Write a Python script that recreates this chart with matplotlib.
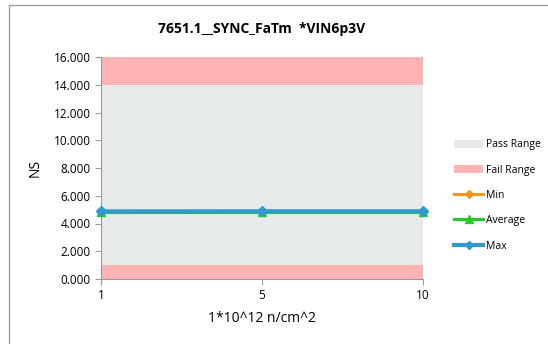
import matplotlib
matplotlib.use("Agg")
import matplotlib.pyplot as plt
from matplotlib.patches import Patch, Rectangle
from matplotlib.lines import Line2D
import numpy as np

plt.rcParams['font.family'] = ['Open Sans', 'DejaVu Sans']

categories = ["1", "5", "10"]
pass_low = [1.0, 1.0, 1.0]
pass_high = [14.0, 14.0, 14.0]
fail_top = [16.0, 16.0, 16.0]
min_vals = [4.80, 4.80, 4.80]
avg_vals = [4.81, 4.81, 4.81]
max_vals = [4.87, 4.88, 4.88]
yticks = [0, 2, 4, 6, 8, 10, 12, 14, 16]

fig = plt.figure(figsize=(5.48, 3.44), dpi=100)
fig.patch.set_facecolor("white")
fig.add_artist(Rectangle((9/548, -0.1), 1.0, 1 - 5/344 + 0.1, transform=fig.transFigure,
                         fill=False, edgecolor="#a0a0a0", linewidth=1.0))

ax = fig.add_axes([101/548, 1 - 279/344, (423 - 101)/548, (279 - 57)/344])
x = np.arange(len(categories))

pass_c = "#e6eaea"
fail_c = "#ffb3b3"
ax.fill_between(x, 0, pass_low, color=fail_c, linewidth=0)
ax.fill_between(x, pass_low, pass_high, color=pass_c, linewidth=0)
ax.fill_between(x, pass_high, fail_top, color=fail_c, linewidth=0)

min_c = "#f7941d"
avg_c = "#22cc22"
max_c = "#3399cc"
ax.plot(x, min_vals, color=min_c, lw=2.2, marker="D", ms=4, clip_on=False, zorder=3)
ax.plot(x, avg_vals, color=avg_c, lw=2.2, marker="^", ms=6, clip_on=False, zorder=4)
ax.plot(x, max_vals, color=max_c, lw=3.0, marker="D", ms=5, clip_on=False, zorder=5)

ax.set_xlim(0, len(categories) - 1)
ax.set_ylim(0, 16)
ax.set_xticks(x)
ax.set_xticklabels(categories, fontsize=8.5)
ax.set_yticks(yticks)
ax.set_yticklabels([f"{v:.3f}" for v in yticks], fontsize=8.5)
for s in ["top", "right"]:
    ax.spines[s].set_visible(False)
for s in ["left", "bottom"]:
    ax.spines[s].set_color("#999999")
ax.tick_params(axis="both", colors="#999999", labelcolor="black", length=4, direction="out")
ax.set_ylabel("NS", fontsize=10, labelpad=8)
ax.set_xlabel("1*10^12 n/cm^2", fontsize=10, labelpad=6)
ax.set_title("7651.1__SYNC_FaTm  *VIN6p3V", fontsize=10, fontweight="bold", pad=17)

handles = [
    Patch(facecolor=pass_c, edgecolor="none", label="Pass Range"),
    Patch(facecolor=fail_c, edgecolor="none", label="Fail Range"),
    Line2D([], [], color=min_c, lw=2.2, marker="D", ms=4, label="Min"),
    Line2D([], [], color=avg_c, lw=2.2, marker="^", ms=6, label="Average"),
    Line2D([], [], color=max_c, lw=3.0, marker="D", ms=4, label="Max"),
]
fig.legend(handles=handles, loc="upper left", bbox_to_anchor=(450/548, 1 - 135/344),
           frameon=False, fontsize=7.5, labelspacing=1.38, handlelength=2.8,
           handletextpad=0.3, handleheight=0.8, borderaxespad=0)

fig.savefig("out.png", dpi=100)
